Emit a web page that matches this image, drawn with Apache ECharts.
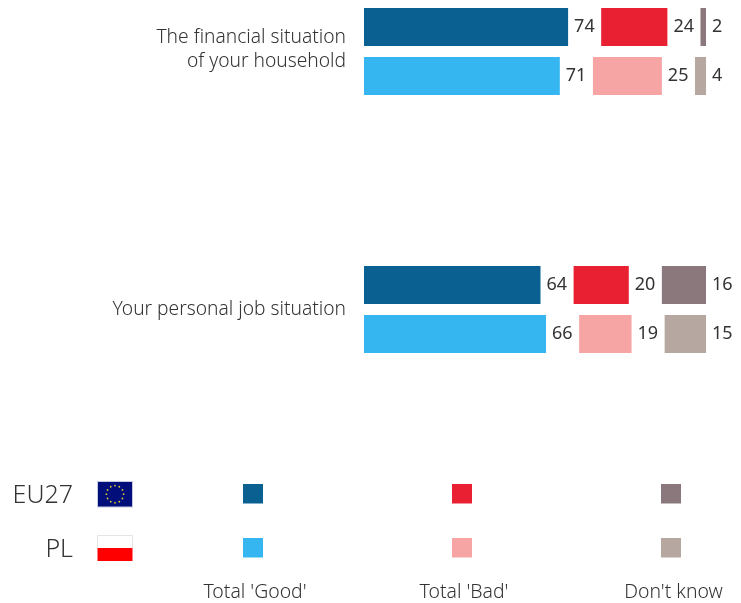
<!DOCTYPE html>
<html><head><meta charset="utf-8">
<style>html,body{margin:0;padding:0;background:#fff}#c{width:741px;height:603px}</style>
<script src="https://cdn.jsdelivr.net/npm/echarts@6/dist/echarts.min.js"></script>
</head><body><div id="c"></div>
<script>
const categories = ['The financial situation\nof your household', 'Your personal job situation'];
const groups = ['EU27', 'PL'];
const responses = ["Total 'Good'", "Total 'Bad'", "Don't know"];
const eu27Good = [74, 64];
const eu27Bad = [24, 20];
const eu27Dk = [2, 16];
const plGood = [71, 66];
const plBad = [25, 19];
const plDk = [4, 15];
const spacer = [12, 12];
const eu27Colors = ['#0a6090', '#e82032', '#8a787c'];
const plColors = ['#35b6f1', '#f6a4a4', '#b6a8a0'];

const font = '"Noto Sans", sans-serif';
const ink = '#333333';
const rows = [
  {name: 'EU27', vals: [eu27Good, eu27Bad, eu27Dk], colors: eu27Colors},
  {name: 'PL', vals: [plGood, plBad, plDk], colors: plColors}
];
const series = [];
rows.forEach(r => {
  r.vals.forEach((v, i) => {
    series.push({
      name: r.name + ' ' + responses[i], type: 'bar', stack: r.name, data: v,
      barWidth: 38, barGap: '29%',
      itemStyle: {color: r.colors[i]},
      label: {show: true, position: 'right', distance: 6, color: ink, fontFamily: font, fontSize: 18}
    });
    if (i < 2) series.push({
      name: r.name + ' gap ' + i, type: 'bar', stack: r.name, data: spacer, silent: true,
      itemStyle: {color: 'transparent'}, label: {show: false}
    });
  });
});

const txt = (x, y, s, size, align) => ({type: 'text', x, y, style: {text: s, fill: ink, font: '300 ' + size + 'px ' + font, align: align, verticalAlign: 'middle'}});
const rect = (x, y, w, h, fill, stroke) => ({type: 'rect', shape: {x, y, width: w, height: h}, style: {fill, stroke: stroke || null, lineWidth: 1}});
const gfx = [];
const legendX = [243, 452, 661];
const legendLabelX = [255, 464, 673.5];
const rowY = [484, 538];
rows.forEach((r, j) => {
  gfx.push(txt(73, rowY[j] + 11.5, r.name, 25, 'right'));
  r.colors.forEach((c, i) => gfx.push(rect(legendX[i], rowY[j], 20, 19.5, c)));
});
responses.forEach((s, i) => gfx.push(txt(legendLabelX[i], 592, s, 19.4, 'center')));
gfx.push(rect(97.5, 481.5, 35, 25.5, '#020f7a', '#c4c8e0'));
for (let k = 0; k < 12; k++) {
  const a = k * Math.PI / 6;
  gfx.push({type: 'circle', shape: {cx: 115 + 8.6 * Math.cos(a), cy: 494.2 + 8.6 * Math.sin(a), r: 0.9}, style: {fill: '#d8c832'}});
}
gfx.push(rect(97.5, 535.5, 35, 13, '#ffffff', '#e4e4e4'));
gfx.push(rect(97.5, 548, 35, 13, '#ff0000'));

const chart = echarts.init(document.getElementById('c'), null, {renderer: 'canvas'});
chart.setOption({
  animation: false,
  backgroundColor: '#fff',
  grid: {left: 364, width: 342, top: -77.5, height: 516, containLabel: false, outerBoundsMode: 'none'},
  xAxis: {type: 'value', min: 0, max: 124, show: false},
  yAxis: {
    type: 'category', inverse: true,
    data: categories,
    axisLine: {show: false}, axisTick: {show: false},
    axisLabel: {
      color: ink, fontFamily: font, fontWeight: 300, fontSize: 19.2, lineHeight: 24, margin: 18, align: 'right',
      formatter: v => v.includes('\n') ? v.split('\n').map(l => '{t|' + l + '}').join('\n') + '\n{pad| }' : '{t|' + v + '}',
      rich: {
        t: {color: ink, fontFamily: font, fontWeight: 300, fontSize: 19.2, lineHeight: 24},
        pad: {fontSize: 1, lineHeight: 3}
      }
    }
  },
  series,
  graphic: gfx
});
</script></body></html>
